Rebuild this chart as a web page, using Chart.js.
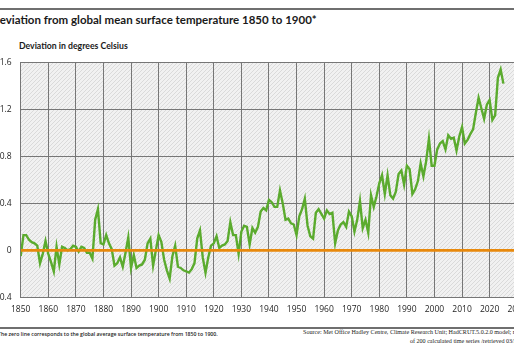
<!DOCTYPE html>
<html>
<head>
<meta charset="utf-8">
<script src="https://cdn.jsdelivr.net/npm/chart.js@4.4.1/dist/chart.umd.min.js"></script>
<style>
  html, body {
    margin: 0;
    padding: 0;
    background: #fff;
    width: 514px;
    height: 352px;
    overflow: hidden;
    position: relative;
    font-family: "Open Sans", sans-serif;
    color: #1a1a1a;
  }
  .rule { position: absolute; left: 0; width: 514px; background: #6f6f6f; }
  #topRule { top: 8px; height: 2px; }
  #bottomRule { top: 327px; height: 2px; }
  #title {
    position: absolute; left: -9px; top: 13px;
    font-family: Lato, sans-serif; font-weight: 700; font-size: 11.5px; white-space: nowrap;
  }
  #subtitle {
    position: absolute; left: 19px; top: 40px;
    font-family: Lato, sans-serif; font-weight: 700; font-size: 8.7px; white-space: nowrap;
  }
  #chartBox { position: absolute; left: -40px; top: 40px; width: 600px; height: 285px; }
  #note {
    position: absolute; left: -2px; top: 330px;
    font-size: 5.2px; font-weight: 600; white-space: nowrap;
  }
  #source {
    position: absolute; right: -12px; top: 328px;
    font-family: "Liberation Serif", serif; font-size: 6.1px; line-height: 9px;
    text-align: right; white-space: nowrap;
  }
</style>
</head>
<body>
<div class="rule" id="topRule"></div>
<div id="title">Deviation from global mean surface temperature 1850 to 1900*</div>
<div id="subtitle">Deviation in degrees Celsius</div>
<div id="chartBox"><canvas id="tempChart"></canvas></div>
<div class="rule" id="bottomRule"></div>
<div id="note">The zero line corresponds to the global average surface temperature from 1850 to 1900.</div>
<div id="source">Source: Met Office Hadley Centre, Climate Research Unit; HadCRUT.5.0.2.0 model; mean<br>of 200 calculated time series /retrieved 03/2026</div>

<script>
// Jahresabweichung (°C) gegenüber 1850–1900
const FIRST_YEAR = 1850;
const ANOMALY = [
  -0.05, 0.13, 0.13, 0.09, 0.07, 0.06, 0.04, -0.11, -0.03, 0.08,     // 1850
  -0.03, -0.10, -0.18, 0.03, -0.12, 0.03, 0.02, 0.00, 0.01, 0.04,    // 1860
  0.03, -0.01, 0.03, 0.02, -0.02, -0.02, -0.07, 0.26, 0.35, 0.06,    // 1870
  0.05, 0.13, 0.06, 0.01, -0.13, -0.11, -0.06, -0.14, -0.02, 0.11,   // 1880
  -0.15, -0.04, -0.15, -0.13, -0.12, -0.08, 0.06, 0.10, -0.13, 0.00, // 1890
  0.13, 0.07, -0.08, -0.17, -0.24, -0.05, 0.04, -0.14, -0.15, -0.17, // 1900
  -0.18, -0.19, -0.16, -0.11, 0.10, 0.17, -0.06, -0.19, -0.06, 0.04, // 1910
  0.06, 0.12, 0.02, 0.04, 0.05, 0.08, 0.24, 0.13, 0.13, -0.03,       // 1920
  0.16, 0.21, 0.20, 0.05, 0.19, 0.15, 0.20, 0.33, 0.36, 0.34,        // 1930
  0.43, 0.41, 0.37, 0.37, 0.51, 0.40, 0.26, 0.27, 0.23, 0.22,        // 1940
  0.13, 0.29, 0.35, 0.44, 0.21, 0.12, 0.10, 0.32, 0.35, 0.31,        // 1950
  0.27, 0.34, 0.31, 0.32, 0.06, 0.17, 0.22, 0.24, 0.20, 0.33,        // 1960
  0.29, 0.16, 0.26, 0.42, 0.19, 0.26, 0.15, 0.47, 0.37, 0.46,        // 1970
  0.57, 0.64, 0.48, 0.64, 0.47, 0.44, 0.50, 0.65, 0.68, 0.56,        // 1980
  0.72, 0.69, 0.48, 0.52, 0.59, 0.74, 0.63, 0.76, 0.95, 0.72,        // 1990
  0.72, 0.86, 0.91, 0.93, 0.86, 0.98, 0.95, 0.96, 0.85, 0.97,        // 2000
  1.05, 0.91, 0.94, 0.99, 1.03, 1.17, 1.30, 1.21, 1.12, 1.24,        // 2010
  1.28, 1.11, 1.15, 1.47, 1.54, 1.42                                 // 2020
];
const YEARS = ANOMALY.map((_, i) => FIRST_YEAR + i);
const ZERO_SPAN = [1850, 2030];
const Y_MIN = -0.4, Y_MAX = 1.6, Y_STEP = 0.4;
const X_MIN = 1850, X_MAX = 2030, X_STEP = 10;

const GREEN = "#5bab2e";
const ORANGE = "#e8890c";
const GRID = "#767676";

// schraffierter Hintergrund der Zeichenfläche
const tile = document.createElement("canvas");
tile.width = tile.height = 4;
const tc = tile.getContext("2d");
tc.fillStyle = "#f1f1f1";
tc.fillRect(0, 0, 4, 4);
tc.fillStyle = "#dadada";
for (let i = 0; i < 4; i++) tc.fillRect(i, 3 - i, 1, 1);
const hatch = tc.createPattern(tile, "repeat");

const hatchBackground = {
  id: "hatchBackground",
  beforeDraw(chart) {
    const { ctx, chartArea: a } = chart;
    ctx.save();
    ctx.fillStyle = hatch;
    ctx.fillRect(a.left, a.top, a.right - a.left, a.bottom - a.top);
    ctx.restore();
  },
};

Chart.defaults.font.family = '"Open Sans", sans-serif';
Chart.defaults.color = "#1f1f1f";

new Chart(document.getElementById("tempChart"), {
  type: "line",
  data: {
    datasets: [
      {
        label: "Nulllinie",
        data: ZERO_SPAN.map((x) => ({ x, y: 0 })),
        borderColor: ORANGE,
        borderWidth: 2.6,
        pointRadius: 0,
        order: 0,
      },
      {
        label: "Abweichung",
        data: YEARS.map((x, i) => ({ x, y: ANOMALY[i] })),
        borderColor: GREEN,
        borderWidth: 2.4,
        pointRadius: 0,
        tension: 0,
        order: 1,
      },
    ],
  },
  options: {
    responsive: true,
    maintainAspectRatio: false,
    animation: false,
    layout: { padding: { top: 22.5, right: 42.8, bottom: 0, left: 0 } },
    plugins: { legend: { display: false }, tooltip: { enabled: false } },
    scales: {
      x: {
        type: "linear",
        min: X_MIN,
        max: X_MAX,
        afterFit: (s) => { s.height = 27.7; },
        ticks: {
          stepSize: X_STEP,
          padding: 7,
          font: { size: 8.5 },
          callback: (v) => String(v),
        },
        grid: { color: GRID, lineWidth: 1, drawTicks: false },
        border: { color: GRID },
      },
      y: {
        min: Y_MIN,
        max: Y_MAX,
        afterFit: (s) => { s.width = 60.7; },
        ticks: {
          stepSize: Y_STEP,
          padding: 9,
          font: { size: 8.5 },
          callback: (v) => (Math.abs(v) < 1e-9 ? "0" : v.toFixed(1)),
        },
        grid: { color: GRID, lineWidth: 1, drawTicks: false },
        border: { color: GRID },
      },
    },
  },
  plugins: [hatchBackground],
});
</script>
</body>
</html>
